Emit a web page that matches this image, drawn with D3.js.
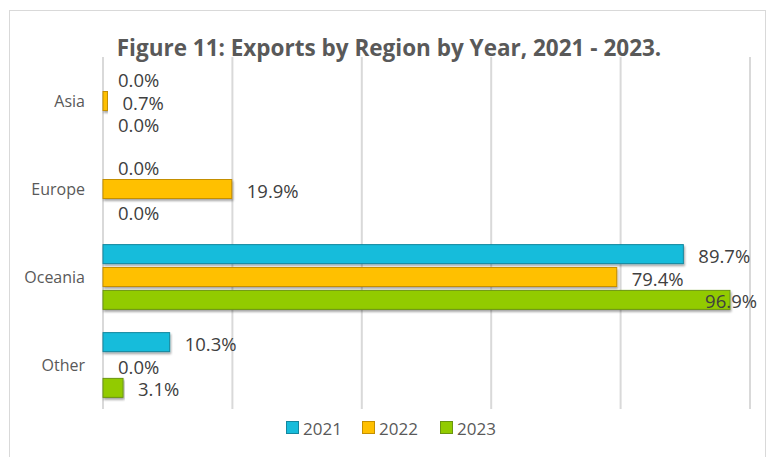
<!DOCTYPE html>
<html>
<head>
<meta charset="utf-8">
<script src="https://cdn.jsdelivr.net/npm/d3@7"></script>
<style>
  body { margin: 0; background: #fff; }
  svg { display: block; font-family: "Open Sans", sans-serif; }
</style>
</head>
<body>
<svg id="chart" width="768" height="457"></svg>
<script>
// data
const categories = ["Asia", "Europe", "Oceania", "Other"];
const years = ["2021", "2022", "2023"];
const values2021 = [0.0, 0.0, 89.7, 10.3];
const values2022 = [0.7, 19.9, 79.4, 0.0];
const values2023 = [0.0, 0.0, 96.9, 3.1];
const xTicks = [0, 20, 40, 60, 80, 100];

const seriesValues = [values2021, values2022, values2023];
const fills = ["#17bcdb", "#ffc000", "#92cb00"];
const strokes = ["#14879f", "#c48f00", "#6b9510"];

const width = 768, height = 457;
const margin = { top: 57, right: 18, bottom: 48, left: 103 };
const plotBottom = height - margin.bottom;

const svg = d3.select("#chart");

svg.append("rect")
  .attr("width", width).attr("height", height).attr("fill", "#fff");

// outer chart border
svg.append("rect")
  .attr("x", 9.5).attr("y", 10.5)
  .attr("width", 756).attr("height", 470)
  .attr("fill", "none").attr("stroke", "#d9d9d9");

const defs = svg.append("defs");
const shadow = defs.append("filter").attr("id", "shadow")
  .attr("x", "-5%").attr("y", "-20%").attr("width", "110%").attr("height", "160%");
shadow.append("feDropShadow")
  .attr("dx", 1).attr("dy", 2).attr("stdDeviation", 1)
  .attr("flood-color", "#000").attr("flood-opacity", 0.35);

const x = d3.scaleLinear().domain([0, 100]).range([margin.left, 750]);

const y0 = d3.scaleBand()
  .domain(categories)
  .range([margin.top, plotBottom])
  .paddingInner(0.22)
  .paddingOuter(0.11);

const y1 = d3.scaleBand()
  .domain(years)
  .range([0, y0.bandwidth()])
  .paddingInner(0.17)
  .paddingOuter(0.085);

// vertical gridlines
svg.append("g")
  .selectAll("line")
  .data(xTicks)
  .join("line")
  .attr("x1", d => x(d)).attr("x2", d => x(d))
  .attr("y1", margin.top).attr("y2", plotBottom)
  .attr("stroke", "#d9d9d9").attr("stroke-width", 2);

// category labels
svg.append("g")
  .selectAll("text")
  .data(categories)
  .join("text")
  .attr("x", 85)
  .attr("y", d => y0(d) + y0.bandwidth() / 2)
  .attr("text-anchor", "end")
  .attr("dominant-baseline", "central")
  .attr("font-size", 16)
  .attr("fill", "#595959")
  .text(d => d);

// flatten bars
const bars = [];
categories.forEach((c, i) => {
  years.forEach((yr, j) => {
    bars.push({ cat: c, year: yr, s: j, v: seriesValues[j][i] });
  });
});

svg.append("g")
  .selectAll("rect")
  .data(bars.filter(d => d.v > 0))
  .join("rect")
  .attr("x", x(0))
  .attr("y", d => y0(d.cat) + y1(d.year))
  .attr("width", d => x(d.v) - x(0))
  .attr("height", y1.bandwidth())
  .attr("fill", d => fills[d.s])
  .attr("stroke", d => strokes[d.s])
  .attr("stroke-width", 1)
  .attr("filter", "url(#shadow)");

// value labels, kept inside the chart area like Excel does
const labels = svg.append("g")
  .selectAll("text")
  .data(bars)
  .join("text")
  .attr("y", d => y0(d.cat) + y1(d.year) + y1.bandwidth() / 2 + 1)
  .attr("dominant-baseline", "central")
  .attr("font-size", 18.5)
  .attr("fill", "#404040")
  .text(d => d.v.toFixed(1) + "%");

labels.each(function (d) {
  const w = this.getComputedTextLength();
  const lx = Math.min(x(d.v) + 15, 757 - w);
  d3.select(this).attr("x", lx);
});

// title
svg.append("text")
  .attr("x", 389)
  .attr("y", 56)
  .attr("text-anchor", "middle")
  .attr("font-size", 22.5)
  .attr("font-weight", "bold")
  .attr("fill", "#595959")
  .text("Figure 11: Exports by Region by Year, 2021 - 2023.");

// legend
const legendX = [286, 362, 440];
const legend = svg.append("g")
  .selectAll("g")
  .data(years)
  .join("g")
  .attr("transform", (d, i) => `translate(${legendX[i]},428)`);

legend.append("rect")
  .attr("x", 0.5).attr("y", -6.5)
  .attr("width", 12).attr("height", 12)
  .attr("fill", (d, i) => fills[i])
  .attr("stroke", (d, i) => strokes[i]);

legend.append("text")
  .attr("x", 17)
  .attr("y", 0)
  .attr("dominant-baseline", "central")
  .attr("font-size", 17)
  .attr("fill", "#595959")
  .text(d => d);
</script>
</body>
</html>
